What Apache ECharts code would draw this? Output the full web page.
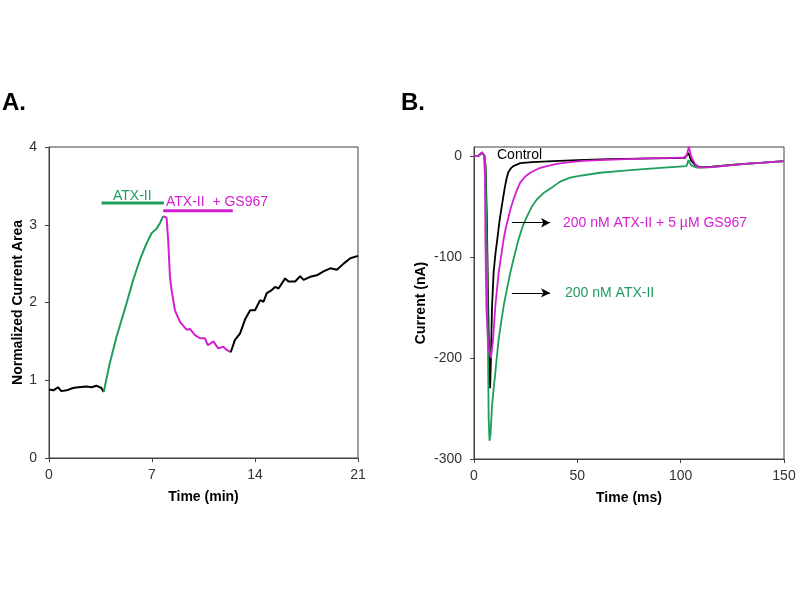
<!DOCTYPE html>
<html>
<head>
<meta charset="utf-8">
<script src="https://cdn.jsdelivr.net/npm/echarts@6/dist/echarts.min.js"></script>
<style>
  html, body { margin: 0; padding: 0; background: #fff; }
  #main { width: 800px; height: 600px; }
</style>
</head>
<body>
<div id="main"></div>
<script>
// ---- panel A : normalized current area vs time (min) ----
var tA_base = [0, 0.3, 0.61, 0.84, 1.2, 1.63, 2.0, 2.54, 2.9, 3.22, 3.56, 3.72];
var vA_base = [0.88, 0.87, 0.91, 0.86, 0.87, 0.90, 0.91, 0.92, 0.91, 0.93, 0.90, 0.85];

var tA_atx = [3.72, 4.13, 4.59, 5.27, 5.72, 6.18, 6.63, 6.97, 7.31, 7.54, 7.76];
var vA_atx = [0.85, 1.22, 1.56, 1.99, 2.29, 2.55, 2.76, 2.89, 2.95, 3.02, 3.11];

var tA_gs = [7.76, 7.85, 7.99, 8.10, 8.22, 8.33, 8.56, 8.90, 9.35, 9.58, 9.92, 10.26, 10.6, 10.8, 11.17, 11.5, 11.85, 12.08, 12.35];
var vA_gs = [3.11, 3.13, 3.09, 2.80, 2.33, 2.16, 1.90, 1.75, 1.65, 1.66, 1.58, 1.54, 1.54, 1.45, 1.50, 1.41, 1.43, 1.39, 1.36];

var tA_wash = [12.35, 12.64, 12.98, 13.32, 13.67, 14.0, 14.35, 14.58, 14.8, 15.14, 15.36, 15.6, 16.05, 16.28, 16.73, 17.07, 17.3, 17.75, 18.2, 18.66, 19.11, 19.57, 20.02, 20.48, 21];
var vA_wash = [1.36, 1.52, 1.60, 1.78, 1.90, 1.90, 2.03, 2.01, 2.12, 2.16, 2.20, 2.18, 2.31, 2.27, 2.27, 2.34, 2.29, 2.33, 2.35, 2.40, 2.44, 2.42, 2.50, 2.57, 2.60];

// application bars (start, end, level)
var barAtx = [3.57, 7.81, 3.28];
var barGs = [7.76, 12.49, 3.18];

// ---- panel B : current (nA) vs time (ms) ----
var tB_ctrl = [0, 2, 3.9, 5, 5.6, 6.2, 6.8, 7.3, 7.8, 8.2, 8.7, 9.5, 10.3, 11.3, 12.3, 13.4, 14.2, 15, 15.8, 16.6, 17.7, 19, 22.4, 28, 38.5, 50, 65, 80, 95, 102, 103.8, 105, 107, 109.3, 115, 128.6, 140, 150];
var iB_ctrl = [0, 0, 3, 1, -10, -60, -140, -200, -230, -200, -150, -115, -98, -82, -65, -50, -40, -30, -22, -16, -12.5, -10, -7, -6, -5, -4, -3, -2.5, -2, -1.8, 3, -4, -9, -11, -10.5, -8, -6.5, -5];

var tB_atx = [0, 2, 3.9, 5, 5.5, 6.3, 6.8, 7.1, 7.5, 8.0, 8.7, 9.5, 10.3, 11.1, 11.9, 13.1, 14.3, 15.9, 17.5, 19.5, 21.5, 23.5, 25.6, 28, 30.4, 34, 38.4, 42, 46.5, 51, 56.2, 61, 70, 80.3, 92, 102.8, 103.8, 105, 107.7, 115, 128.6, 140, 150];
var iB_atx = [0, 0, 3, 1, -10, -100, -200, -260, -282, -275, -248, -230, -215, -198, -182, -165, -149, -132, -116, -99, -83, -70, -60, -50, -43, -36, -30, -25, -21.4, -19.5, -18, -16.5, -14.8, -13.2, -11.5, -9.9, -4, -9, -11.5, -11, -8.2, -6.5, -5];

var tB_gs = [0, 2, 3.9, 4.8, 5.3, 5.5, 6.0, 6.8, 7.5, 8.2, 9.2, 10.3, 11.9, 14.3, 15.3, 16.5, 17.7, 19.1, 20.7, 22.4, 24.7, 27.2, 31, 35.2, 40, 46.5, 53, 61, 80, 101, 102.8, 104, 105, 107, 109.3, 115, 128.6, 140, 150];
var iB_gs = [0, 0, 4, 1, -20, -80, -150, -185, -195, -200, -182, -149, -116, -83, -72, -62, -52, -43, -34, -26, -20.5, -16.5, -12.5, -9.9, -7.7, -5.9, -4.8, -4, -2.5, -1.6, 0, 9.3, 0, -8, -11.5, -11, -8.2, -6.5, -5];

// arrows (x start, x end, level)
var arrowGs = [18.3, 36.8, -66];
var arrowAtx = [18.3, 36.8, -135.5];

var GREEN = '#1f9d5c';
var MAGENTA = '#d21fd0';
var AXIS = '#404040';
var FONT = 'Liberation Sans, Arial, sans-serif';

function zip(xs, ys) {
    return xs.map(function (x, i) { return [x, ys[i]]; });
}

function trace(xi, yi, xs, ys, color, width) {
    return {
        type: 'line',
        xAxisIndex: xi,
        yAxisIndex: yi,
        data: zip(xs, ys),
        symbol: 'none',
        smooth: false,
        animation: false,
        lineStyle: { color: color, width: width }
    };
}

function valueAxis(extra) {
    var ax = {
        type: 'value',
        splitLine: { show: false },
        axisLine: { show: true, onZero: false, lineStyle: { color: AXIS, width: 1 } },
        axisTick: { show: true, inside: false, length: 4, lineStyle: { color: AXIS } },
        axisLabel: { color: '#333', fontSize: 14, fontFamily: FONT, margin: 10 },
        nameTextStyle: { color: '#000', fontSize: 14, fontWeight: 'bold', fontFamily: FONT }
    };
    for (var k in extra) ax[k] = extra[k];
    return ax;
}

var chart = echarts.init(document.getElementById('main'));

var option = {
    backgroundColor: '#fff',
    animation: false,
    grid: [
        { left: 49, top: 147, right: 442, bottom: 142, show: true, borderColor: AXIS, borderWidth: 1 },
        { left: 474, top: 147, right: 16, bottom: 141, show: true, borderColor: AXIS, borderWidth: 1 }
    ],
    xAxis: [
        valueAxis({ gridIndex: 0, min: 0, max: 21, interval: 7, name: 'Time (min)', nameLocation: 'middle', nameGap: 32 }),
        valueAxis({ gridIndex: 1, min: 0, max: 150, interval: 50, name: 'Time (ms)', nameLocation: 'middle', nameGap: 32 })
    ],
    yAxis: [
        valueAxis({ gridIndex: 0, min: 0, max: 4, interval: 1, name: 'Normalized Current Area', nameLocation: 'middle', nameGap: 24,
            axisLabel: { color: '#333', fontSize: 14, fontFamily: FONT, margin: 12 } }),
        valueAxis({ gridIndex: 1, min: -300, max: 9, interval: 100, name: 'Current (nA)', nameLocation: 'middle', nameGap: 46,
            axisLabel: { color: '#333', fontSize: 14, fontFamily: FONT, margin: 12, customValues: [-300, -200, -100, 0] },
            axisTick: { show: true, length: 4, lineStyle: { color: AXIS }, customValues: [-300, -200, -100, 0] } })
    ],
    series: [
        trace(0, 0, tA_base, vA_base, '#000', 2),
        trace(0, 0, tA_atx, vA_atx, GREEN, 2),
        trace(0, 0, tA_gs, vA_gs, MAGENTA, 2),
        trace(0, 0, tA_wash, vA_wash, '#000', 2),
        trace(0, 0, [barAtx[0], barAtx[1]], [barAtx[2], barAtx[2]], GREEN, 3),
        trace(0, 0, [barGs[0], barGs[1]], [barGs[2], barGs[2]], MAGENTA, 3),
        trace(1, 1, tB_ctrl, iB_ctrl, '#000', 1.8),
        trace(1, 1, tB_atx, iB_atx, GREEN, 1.8),
        trace(1, 1, tB_gs, iB_gs, MAGENTA, 1.8),
        {
            type: 'line',
            xAxisIndex: 1,
            yAxisIndex: 1,
            data: [],
            markLine: {
                silent: true,
                animation: false,
                symbol: ['none', 'arrow'],
                symbolSize: [7, 9],
                label: { show: false },
                lineStyle: { color: '#000', width: 1, type: 'solid' },
                data: [
                    [{ coord: [arrowGs[0], arrowGs[2]] }, { coord: [arrowGs[1], arrowGs[2]] }],
                    [{ coord: [arrowAtx[0], arrowAtx[2]] }, { coord: [arrowAtx[1], arrowAtx[2]] }]
                ]
            }
        }
    ],
    graphic: [
        { type: 'text', left: 2, top: 91, style: { text: 'A.', font: 'bold 24px ' + FONT, fill: '#000' } },
        { type: 'text', left: 401, top: 91, style: { text: 'B.', font: 'bold 24px ' + FONT, fill: '#000' } },
        { type: 'text', left: 113, top: 189, style: { text: 'ATX-II', font: '14px ' + FONT, fill: GREEN } },
        { type: 'text', left: 166, top: 195, style: { text: 'ATX-II  + GS967', font: '14px ' + FONT, fill: MAGENTA } },
        { type: 'text', left: 497, top: 148, style: { text: 'Control', font: '14px ' + FONT, fill: '#000' } },
        { type: 'text', left: 563, top: 216, style: { text: '200 nM ATX-II + 5 \u00b5M GS967', font: '14px ' + FONT, fill: MAGENTA } },
        { type: 'text', left: 565, top: 286, style: { text: '200 nM ATX-II', font: '14px ' + FONT, fill: GREEN } }
    ]
};

chart.setOption(option);
</script>
</body>
</html>
